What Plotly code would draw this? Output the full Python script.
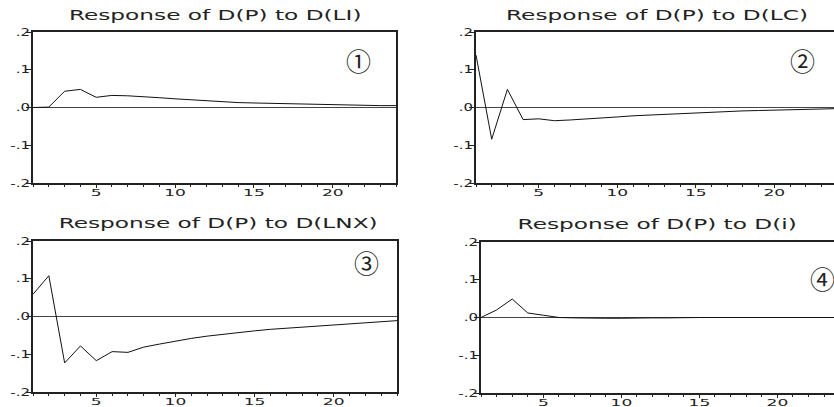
import plotly.graph_objects as go

# ---------------- data ----------------
periods = list(range(1, 25))

resp_LI = [0.000, 0.001, 0.043, 0.048, 0.027, 0.032, 0.031, 0.029, 0.026, 0.023,
           0.020, 0.017, 0.015, 0.013, 0.012, 0.011, 0.010, 0.009, 0.008, 0.007,
           0.006, 0.006, 0.005, 0.005]
resp_LC = [0.139, -0.084, 0.048, -0.032, -0.030, -0.035, -0.033, -0.031, -0.028, -0.025,
           -0.022, -0.020, -0.018, -0.016, -0.014, -0.012, -0.011, -0.009, -0.008, -0.007,
           -0.006, -0.005, -0.004, -0.003]
resp_LNX = [0.059, 0.108, -0.123, -0.078, -0.117, -0.093, -0.095, -0.081, -0.073, -0.065,
            -0.058, -0.052, -0.047, -0.042, -0.038, -0.034, -0.031, -0.028, -0.025, -0.022,
            -0.019, -0.016, -0.013, -0.011]
resp_i = [0.000, 0.020, 0.049, 0.012, 0.006, 0.000, -0.001, -0.002, -0.002, -0.002,
          -0.001, -0.001, -0.001, 0.000, 0.000, 0.000, 0.000, 0.000, 0.000, 0.000,
          0.000, 0.000, 0.000, 0.000]

titles = ["Response of D(P) to D(LI)", "Response of D(P) to D(LC)",
          "Response of D(P) to D(LNX)", "Response of D(P) to D(i)"]
panel_labels = ["\u2460", "\u2461", "\u2462", "\u2463"]

y_tickvals = [-0.2, -0.1, 0.0, 0.1, 0.2]
y_ticktext = ["-.2", "-.1", ".0", ".1", ".2"]
x_tickvals = [5, 10, 15, 20]
x_ticktext = ["5", "10", "15", "20"]

series = [resp_LI, resp_LC, resp_LNX, resp_i]

# ---------------- layout (pixel geometry) ----------------
W, H = 834, 407
boxes = [
    dict(l=33, r=396, t=32, b=183, xend=24.0, right=True,
         title=(215, 15), lab=(358, 60)),
    dict(l=476, r=834, t=32, b=183, xend=23.8, right=False,
         title=(657, 15), lab=(802, 60)),
    dict(l=33, r=397, t=241, b=392, xend=24.0, right=True,
         title=(218, 223), lab=(366, 262)),
    dict(l=481, r=834, t=242, b=393, xend=23.63, right=False,
         title=(657, 224), lab=(822, 278)),
]

FONT = "DejaVu Sans"
fig = go.Figure()
layout = dict(
    width=W, height=H,
    margin=dict(l=0, r=0, t=0, b=0),
    paper_bgcolor="white", plot_bgcolor="white",
    showlegend=False,
    font=dict(family=FONT, color="#222"),
)
annotations = []

for i, (box, ys) in enumerate(zip(boxes, series)):
    n = "" if i == 0 else str(i + 1)
    fig.add_trace(go.Scatter(
        x=periods, y=ys, mode="lines",
        line=dict(color="#111", width=1),
        xaxis="x" + n, yaxis="y" + n, hoverinfo="skip"))
    layout["xaxis" + n] = dict(
        domain=[box["l"] / W, box["r"] / W],
        range=[1, box["xend"]], anchor="y" + n,
        tickvals=x_tickvals, ticktext=x_ticktext,
        ticks="outside", ticklen=3, tickcolor="#222", tickwidth=1,
        minor=dict(dtick=1, tick0=1, ticks="outside", ticklen=2, tickcolor="#222"),
        showline=True, linecolor="#222", linewidth=2, mirror=True,
        showgrid=False, zeroline=False, automargin=False,
        ticklabelstandoff=-3,
        tickfont=dict(family=FONT, size=9.5, color="#222"),
    )
    layout["yaxis" + n] = dict(
        domain=[1 - box["b"] / H, 1 - box["t"] / H],
        range=[-0.2, 0.2], anchor="x" + n,
        tickvals=y_tickvals, ticktext=y_ticktext,
        ticks="outside", ticklen=5, tickcolor="#222", tickwidth=1,
        showline=True, linecolor="#222", linewidth=2, mirror=box["right"],
        showgrid=False, zeroline=True, zerolinecolor="#444", zerolinewidth=1,
        automargin=False, ticklabelstandoff=-6,
        tickfont=dict(family=FONT, size=10, color="#222"),
    )
    tx, ty = box["title"]
    annotations.append(dict(
        text=titles[i], x=tx / W, y=1 - ty / H, xref="paper", yref="paper",
        xanchor="center", yanchor="middle", showarrow=False,
        font=dict(family=FONT, size=14, color="#222")))
    lx, ly = box["lab"]
    annotations.append(dict(
        text=panel_labels[i], x=lx / W, y=1 - ly / H, xref="paper", yref="paper",
        xanchor="center", yanchor="middle", showarrow=False,
        font=dict(family="Noto Sans CJK SC", size=25, color="#222")))

layout["annotations"] = annotations
fig.update_layout(**layout)

# page body margin reset + horizontal stretch of the (wide, EViews-style) texts
post_js = """
document.body.style.margin = '0';
document.body.style.overflow = 'hidden';
function stretch(el, s, anchor) {
  try {
    var bb = el.getBBox();
    var cx = anchor === 'end' ? bb.x + bb.width : bb.x + bb.width / 2;
    var t = el.getAttribute('transform') || '';
    el.setAttribute('transform', t + ' translate(' + cx + ',0) scale(' + s + ',1) translate(' + (-cx) + ',0)');
  } catch (e) {}
}
document.querySelectorAll('.annotation-text').forEach(function (el) {
  if (el.textContent.indexOf('Response') === 0) stretch(el, 1.66, 'middle');
});
document.querySelectorAll('.xaxislayer-above text').forEach(function (el) { stretch(el, 1.8, 'middle'); });
document.querySelectorAll('.yaxislayer-above text').forEach(function (el) { stretch(el, 1.5, 'end'); });
"""

fig.write_html("out.html", post_script=post_js, config={"displayModeBar": False})
